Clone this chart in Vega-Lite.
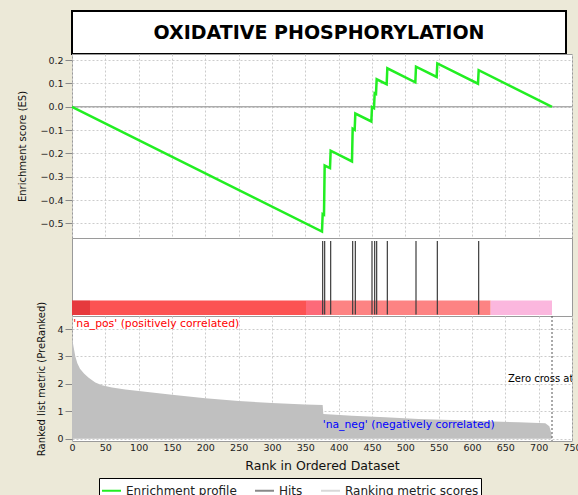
{
  "$schema": "https://vega.github.io/schema/vega-lite/v6.json",
  "background": "#ece9d8",
  "padding": {"left": 17, "top": 10, "right": 0, "bottom": 0},
  "spacing": 0,
  "bounds": "flush",
  "config": {
    "font": "DejaVu Sans",
    "view": {"stroke": "#9a9a9a", "fill": "white"},
    "axis": {
      "labelFont": "DejaVu Sans", "titleFont": "DejaVu Sans",
      "labelFontSize": 9.5, "titleFontSize": 10, "titleFontWeight": "normal",
      "labelColor": "#222222", "titleColor": "#111111", "tickColor": "#888888",
      "gridColor": "#cccccc", "gridDash": [2, 2], "domain": false, "labelOverlap": false, "tickCount": 30
    }
  },
  "vconcat": [
    {
      "width": 494, "height": 43,
      "view": {"stroke": "black", "strokeWidth": 2, "fill": "white"},
      "data": {"values": [{"title": "OXIDATIVE PHOSPHORYLATION"}]},
      "mark": {"type": "text", "fontSize": 19, "fontWeight": "bold", "font": "DejaVu Sans", "color": "black"},
      "encoding": {"text": {"field": "title", "type": "nominal"}}
    },
    {
      "width": 500, "height": 184,
      "layer": [
        {
          "data": {"values": [{"es": 0}]},
          "mark": {"type": "rule", "color": "#8c8c8c", "strokeWidth": 1},
          "encoding": {"y": {"field": "es", "type": "quantitative"}}
        },
        {
          "data": {"values": [
            {"rank": 0, "es": 0}, {"rank": 375, "es": -0.535}, {"rank": 376, "es": -0.46},
            {"rank": 378, "es": -0.463}, {"rank": 379, "es": -0.252}, {"rank": 387, "es": -0.263},
            {"rank": 388, "es": -0.188}, {"rank": 420, "es": -0.234}, {"rank": 421, "es": -0.094},
            {"rank": 424, "es": -0.099}, {"rank": 425, "es": -0.029}, {"rank": 449, "es": -0.063},
            {"rank": 450, "es": -0.001}, {"rank": 453, "es": -0.006}, {"rank": 454, "es": 0.058},
            {"rank": 456, "es": 0.055}, {"rank": 457, "es": 0.118}, {"rank": 472, "es": 0.097},
            {"rank": 473, "es": 0.165}, {"rank": 515, "es": 0.105}, {"rank": 516, "es": 0.172},
            {"rank": 547, "es": 0.128}, {"rank": 548, "es": 0.186}, {"rank": 609, "es": 0.099},
            {"rank": 610, "es": 0.157}, {"rank": 720, "es": 0}
          ]},
          "mark": {"type": "line", "strokeWidth": 2.5},
          "encoding": {
            "x": {"field": "rank", "type": "quantitative", "scale": {"domain": [0, 750], "nice": false},
                  "axis": {"values": [0,50,100,150,200,250,300,350,400,450,500,550,600,650,700,750], "tickCount": 30, "labels": false, "ticks": false, "title": null, "grid": true}},
            "y": {"field": "es", "type": "quantitative", "scale": {"domain": [-0.5625, 0.2263], "nice": false, "zero": false},
                  "axis": {"values": [-0.5,-0.4,-0.3,-0.2,-0.1,0,0.1,0.2], "tickCount": 30, "format": ".1f", "labelOverlap": false, "labelBound": false, "title": "Enrichment score (ES)", "tickSize": 7, "labelPadding": 2, "titlePadding": 12, "grid": true}},
            "stroke": {"datum": "Enrichment profile",
                       "scale": {"domain": ["Enrichment profile", "Hits", "Ranking metric scores"], "range": ["#22ee22", "#888888", "#d8d8d8"]},
                       "legend": {"orient": "none", "legendX": 27, "legendY": 467, "direction": "horizontal", "columns": 3, "title": null,
                                  "symbolType": "stroke", "symbolStrokeWidth": 2, "symbolSize": 360, "labelFontSize": 12, "labelFont": "DejaVu Sans",
                                  "labelColor": "#222222", "strokeColor": "black", "fillColor": "white", "padding": 2, "columnPadding": 14, "labelLimit": 300}}
          }
        }
      ]
    },
    {
      "width": 500, "height": 78,
      "layer": [
        {
          "data": {"values": [
            {"seg": "a", "start": 0, "end": 27}, {"seg": "b", "start": 27, "end": 351},
            {"seg": "c", "start": 351, "end": 378}, {"seg": "d", "start": 378, "end": 628},
            {"seg": "e", "start": 628, "end": 720}
          ]},
          "mark": {"type": "rect"},
          "encoding": {
            "x": {"field": "start", "type": "quantitative", "scale": {"domain": [0, 750], "nice": false}, "axis": null},
            "x2": {"field": "end"},
            "y": {"datum": 0.013, "type": "quantitative", "scale": {"domain": [0, 1], "nice": false}, "axis": null},
            "y2": {"datum": 0.2},
            "fill": {"field": "seg", "type": "nominal", "scale": {"domain": ["a","b","c","d","e"], "range": ["#e6393d", "#fc5353", "#fd6a79", "#fd8383", "#fbb7de"]}, "legend": null}
          }
        },
        {
          "data": {"values": [
            {"rank": 376}, {"rank": 379}, {"rank": 388}, {"rank": 421}, {"rank": 425}, {"rank": 450},
            {"rank": 454}, {"rank": 457}, {"rank": 473}, {"rank": 516}, {"rank": 548}, {"rank": 610}
          ]},
          "mark": {"type": "rule", "color": "#3c3c3c", "strokeWidth": 1.2},
          "encoding": {
            "x": {"field": "rank", "type": "quantitative"},
            "y": {"datum": 0.02, "type": "quantitative"},
            "y2": {"datum": 0.96}
          }
        }
      ]
    },
    {
      "width": 500, "height": 125,
      "layer": [
        {
          "data": {"values": [
            {"rank": 0, "metric": 3.7}, {"rank": 2, "metric": 3.4}, {"rank": 5, "metric": 3.0},
            {"rank": 8, "metric": 2.75}, {"rank": 12, "metric": 2.55}, {"rank": 18, "metric": 2.38},
            {"rank": 25, "metric": 2.22}, {"rank": 35, "metric": 2.05}, {"rank": 45, "metric": 1.95},
            {"rank": 60, "metric": 1.87}, {"rank": 80, "metric": 1.8}, {"rank": 100, "metric": 1.74},
            {"rank": 150, "metric": 1.6}, {"rank": 200, "metric": 1.48}, {"rank": 250, "metric": 1.38},
            {"rank": 300, "metric": 1.3}, {"rank": 350, "metric": 1.25}, {"rank": 376, "metric": 1.23},
            {"rank": 377, "metric": 0.9}, {"rank": 420, "metric": 0.84}, {"rank": 470, "metric": 0.78},
            {"rank": 520, "metric": 0.72}, {"rank": 570, "metric": 0.68}, {"rank": 620, "metric": 0.64},
            {"rank": 670, "metric": 0.6}, {"rank": 710, "metric": 0.56}, {"rank": 716, "metric": 0.45},
            {"rank": 719, "metric": 0.2}, {"rank": 720, "metric": 0}
          ]},
          "mark": {"type": "area", "color": "#c0c0c0"},
          "encoding": {
            "x": {"field": "rank", "type": "quantitative", "scale": {"domain": [0, 750], "nice": false},
                  "axis": {"values": [0,50,100,150,200,250,300,350,400,450,500,550,600,650,700,750], "tickCount": 30, "labelOverlap": false, "labelBound": false, "title": "Rank in Ordered Dataset", "titleFontSize": 12.5, "labelFlush": false, "ticks": false, "labelPadding": 1, "titlePadding": 8, "grid": true}},
            "y": {"field": "metric", "type": "quantitative", "scale": {"domain": [-0.084, 4.478], "nice": false, "zero": false},
                  "axis": {"values": [0, 1, 2, 3, 4], "format": "d", "tickCount": 30, "labelOverlap": false, "title": "Ranked list metric (PreRanked)", "tickSize": 7, "labelPadding": 2, "titlePadding": 10, "grid": true}},
            "y2": {"datum": 0}
          }
        },
        {
          "data": {"values": [{"zero_cross": 720}]},
          "mark": {"type": "rule", "color": "#555555", "strokeDash": [2, 2]},
          "encoding": {"x": {"field": "zero_cross", "type": "quantitative"}}
        },
        {
          "data": {"values": [
            {"label": "'na_pos' (positively correlated)", "kind": "pos", "rank": 2, "metric": 4.18},
            {"label": "'na_neg' (negatively correlated)", "kind": "neg", "rank": 376, "metric": 0.5}
          ]},
          "mark": {"type": "text", "align": "left", "baseline": "middle", "fontSize": 10.8, "font": "DejaVu Sans"},
          "encoding": {
            "x": {"field": "rank", "type": "quantitative"},
            "y": {"field": "metric", "type": "quantitative"},
            "text": {"field": "label", "type": "nominal"},
            "color": {"field": "kind", "type": "nominal", "scale": {"domain": ["pos", "neg"], "range": ["#ff0000", "#0000ff"]}, "legend": null}
          }
        },
        {
          "data": {"values": [{"label": "Zero cross at", "rank": 654, "metric": 2.18}]},
          "mark": {"type": "text", "align": "left", "baseline": "middle", "fontSize": 10, "font": "DejaVu Sans", "color": "#000000", "clip": true},
          "encoding": {
            "x": {"field": "rank", "type": "quantitative"},
            "y": {"field": "metric", "type": "quantitative"},
            "text": {"field": "label", "type": "nominal"}
          }
        }
      ]
    }
  ]
}
